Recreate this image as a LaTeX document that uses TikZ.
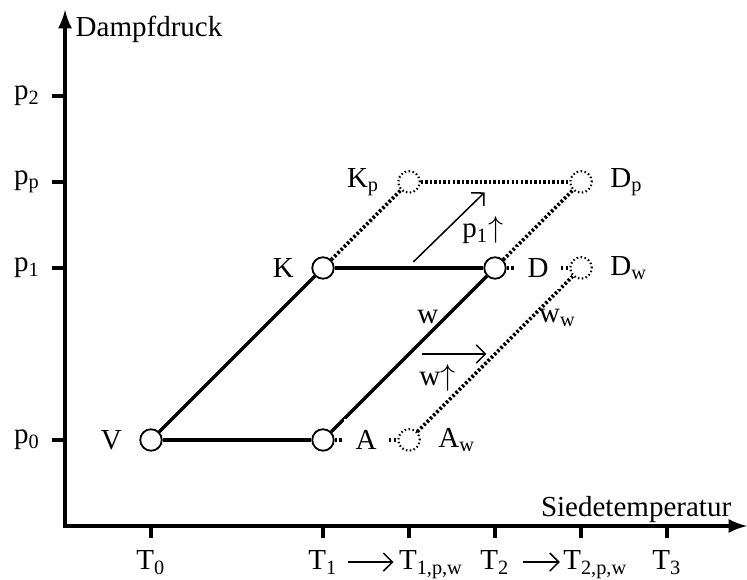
\documentclass[tikz,border=0pt]{standalone}
\usepackage{fontspec}
\setmainfont{Liberation Serif}
\usetikzlibrary{arrows.meta}

\begin{document}
\begin{tikzpicture}[
font=\fontsize{9.6}{11}\selectfont,
label distance=0.08cm,
zustand/.style={
draw,
circle,
fill=white,
inner sep=0pt,
minimum size=0.25cm,
line width=0.6pt
},
verschoben/.style={
draw,
circle,
inner sep=0pt,
minimum size=0.25cm,
line width=0.7pt,
dash pattern=on 0.5pt off 0.8pt
},
linie/.style={line width=1.1pt},
punktiert/.style={line width=1.2pt, dash pattern=on 0.8pt off 0.7pt},
marke/.style={line width=1.1pt},
pfeil/.style={line width=0.5pt, -{Straight Barb[length=3pt,width=6pt]}}
]

\useasboundingbox (-0.756,-0.628) rectangle (7.93,6.116);

\coordinate (O) at (0,0);
\coordinate (Y) at (0,6);
\coordinate (X) at (7.93,0);

\draw[line width=1.1pt, latex-latex] (Y) -- (O) -- (X);

\node[anchor=base west] (yachse) at (0,5.69) {Dampfdruck};
\node[anchor=base east] (xachse) at (7.87,0.105) {Siedetemperatur};

\draw[marke] (0,1) -- (-0.15,1) node[left] (p0) {p\textsubscript{0}};
\draw[marke] (0,3) -- (-0.15,3) node[left] (p1) {p\textsubscript{1}};
\draw[marke] (0,4) -- (-0.15,4) node[left] (pp) {p\textsubscript{p}};
\draw[marke] (0,5) -- (-0.15,5) node[left] (p2) {p\textsubscript{2}};

\draw[marke] (1,0) -- (1,-0.14);
\draw[marke] (3,0) -- (3,-0.14);
\draw[marke] (4,0) -- (4,-0.14);
\draw[marke] (5,0) -- (5,-0.14);
\draw[marke] (6,0) -- (6,-0.14);
\draw[marke] (7,0) -- (7,-0.14);

\node[anchor=base] (T0) at (1,-0.51) {T\textsubscript{0}};
\node[anchor=base] (T1) at (3,-0.51) {T\textsubscript{1}};
\node[anchor=base west] (T1pw) at (3.76,-0.51) {T\textsubscript{1,p,w}};
\node[anchor=base] (T2) at (5,-0.51) {T\textsubscript{2}};
\node[anchor=base west] (T2pw) at (5.67,-0.51) {T\textsubscript{2,p,w}};
\node[anchor=base] (T3) at (7,-0.51) {T\textsubscript{3}};

\draw[pfeil, shorten >=-1.7pt] (T1.east |- 0,-0.42) -- (T1pw.west |- 0,-0.42);
\draw[pfeil, shorten <=1pt, shorten >=-2.4pt] (T2.east |- 0,-0.42) -- (T2pw.west |- 0,-0.42);

\node[zustand, label=left:V] (V) at (1,1) {};
\node[zustand] (A) at (3,1) {};
\node[zustand, label=left:K] (K) at (3,3) {};
\node[zustand] (D) at (5,3) {};

\node[verschoben, label=left:K\textsubscript{p}] (Kp) at (4,4) {};
\node[verschoben, label=right:D\textsubscript{p}] (Dp) at (6,4) {};
\node[verschoben, label=right:D\textsubscript{w}] (Dw) at (6,3) {};
\node[verschoben, label=right:A\textsubscript{w}] (Aw) at (4,1) {};

\draw[linie] (V) -- (A);
\draw[linie] (V) -- (K);
\draw[linie] (K) -- (D);
\draw[linie] (A) -- (D);

\draw[punktiert] (K) -- (Kp);
\draw[punktiert] (Kp) -- (Dp);
\draw[punktiert] (D) -- (Dp);
\draw[punktiert] (Aw) -- (Dw);
\draw[punktiert] (A) -- (Aw);
\draw[punktiert] (D) -- (Dw);

\node[fill=white, inner sep=3.8pt] (Alab) at (3.5,1) {A};
\node[fill=white, inner sep=3.8pt] (Dlab) at (5.5,3) {D};

\node (w) at (4.22,2.43) {w};
\node (ww) at (5.73,2.42) {w\textsubscript{w}};

\coordinate (p1a) at (4.05,3.07);
\coordinate (p1b) at (4.88,3.88);
\draw[pfeil] (p1a) -- (p1b);
\node (p1hoch) at (4.86,3.44) {p\textsubscript{1}$\uparrow$};

\coordinate (wa) at (4.15,2);
\coordinate (wb) at (4.9,2);
\draw[pfeil] (wa) -- (wb);
\node (whoch) at (4.33,1.72) {w$\uparrow$};

\end{tikzpicture}
\end{document}
